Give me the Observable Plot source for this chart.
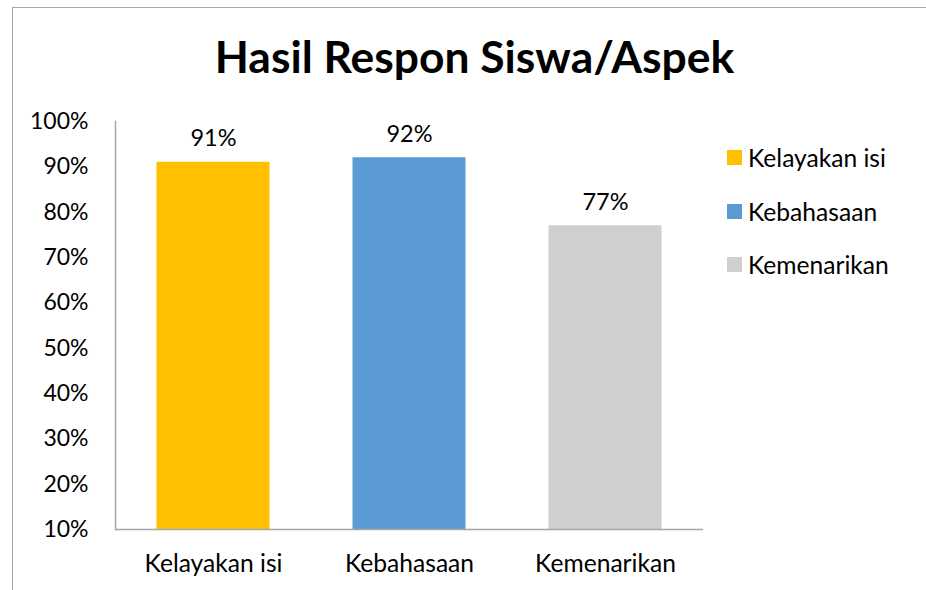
<!DOCTYPE html>
<html>
<head>
<meta charset="utf-8">
<script src="https://cdn.jsdelivr.net/npm/d3@7"></script>
<script src="https://cdn.jsdelivr.net/npm/@observablehq/plot@0.6"></script>
<style>
  html, body { margin: 0; padding: 0; background: #fff; }
  #wrap { position: relative; width: 926px; height: 590px; overflow: hidden; background: #fff; font-family: Lato, "Open Sans", sans-serif; color: #000; }
  #border { position: absolute; left: 12px; top: 7px; right: -10px; bottom: -10px; border-top: 1.5px solid #a6a6a6; border-left: 1.5px solid #a6a6a6; }
  #title { position: absolute; left: 16px; width: 917px; top: 34px; text-align: center; font-weight: 700; font-size: 44.4px; line-height: 44px; }
  #chart { position: absolute; left: 0; top: 100px; }
  #legend { position: absolute; left: 727px; top: 131px; font-size: 24.6px; }
  .row { display: flex; align-items: center; height: 53.5px; }
  .sw { width: 15px; height: 15px; margin-right: 6px; }
</style>
</head>
<body>
<div id="wrap">
  <div id="border"></div>
  <div id="title"></div>
  <div id="chart"></div>
  <div id="legend"></div>
</div>
<script>
const title = "Hasil Respon Siswa/Aspek";
const categories = ["Kelayakan isi", "Kebahasaan", "Kemenarikan"];
const values = [0.91, 0.92, 0.77];
const colors = ["#FFC000", "#5B9BD5", "#D0CECE"];
const yTicks = [0.1, 0.2, 0.3, 0.4, 0.5, 0.6, 0.7, 0.8, 0.9, 1.0];
const baseline = 0.1;

const data = categories.map((c, i) => ({category: c, value: values[i]}));
const pct = d => Math.round(d * 100) + "%";

document.getElementById("title").textContent = title;

const chart = Plot.plot({
  width: 926,
  height: 490,
  marginTop: 21,
  marginBottom: 61,
  marginLeft: 115,
  marginRight: 223,
  style: {fontFamily: "Lato, 'Open Sans', sans-serif", fontSize: "23px", color: "#000", background: "transparent", overflow: "visible"},
  x: {domain: categories, padding: 0, label: null},
  y: {domain: [baseline, 1], label: null},
  color: {domain: categories, range: colors},
  marks: [
    Plot.barY(data, {x: "category", y1: baseline, y2: "value", fill: "category", insetLeft: 41.5, insetRight: 41.5}),
    Plot.text(data, {x: "category", y: "value", text: d => pct(d.value), lineAnchor: "bottom", dy: -16, fontSize: 23.5, fill: "#000"}),
    Plot.axisY(yTicks, {tickSize: 0, tickPadding: 27, tickFormat: pct, label: null, fontSize: 23}),
    Plot.axisX({tickSize: 0, tickPadding: 24.6, label: null, fontSize: 24.6}),
    Plot.ruleY([baseline], {stroke: "#a6a6a6", strokeWidth: 1.5}),
    Plot.frame({anchor: "left", stroke: "#a6a6a6", strokeWidth: 1.5})
  ]
});
document.getElementById("chart").appendChild(chart);

const legend = document.getElementById("legend");
categories.forEach((c, i) => {
  const row = document.createElement("div");
  row.className = "row";
  const sw = document.createElement("div");
  sw.className = "sw";
  sw.style.background = colors[i];
  const t = document.createElement("span");
  t.textContent = c;
  row.appendChild(sw);
  row.appendChild(t);
  legend.appendChild(row);
});
</script>
</body>
</html>
